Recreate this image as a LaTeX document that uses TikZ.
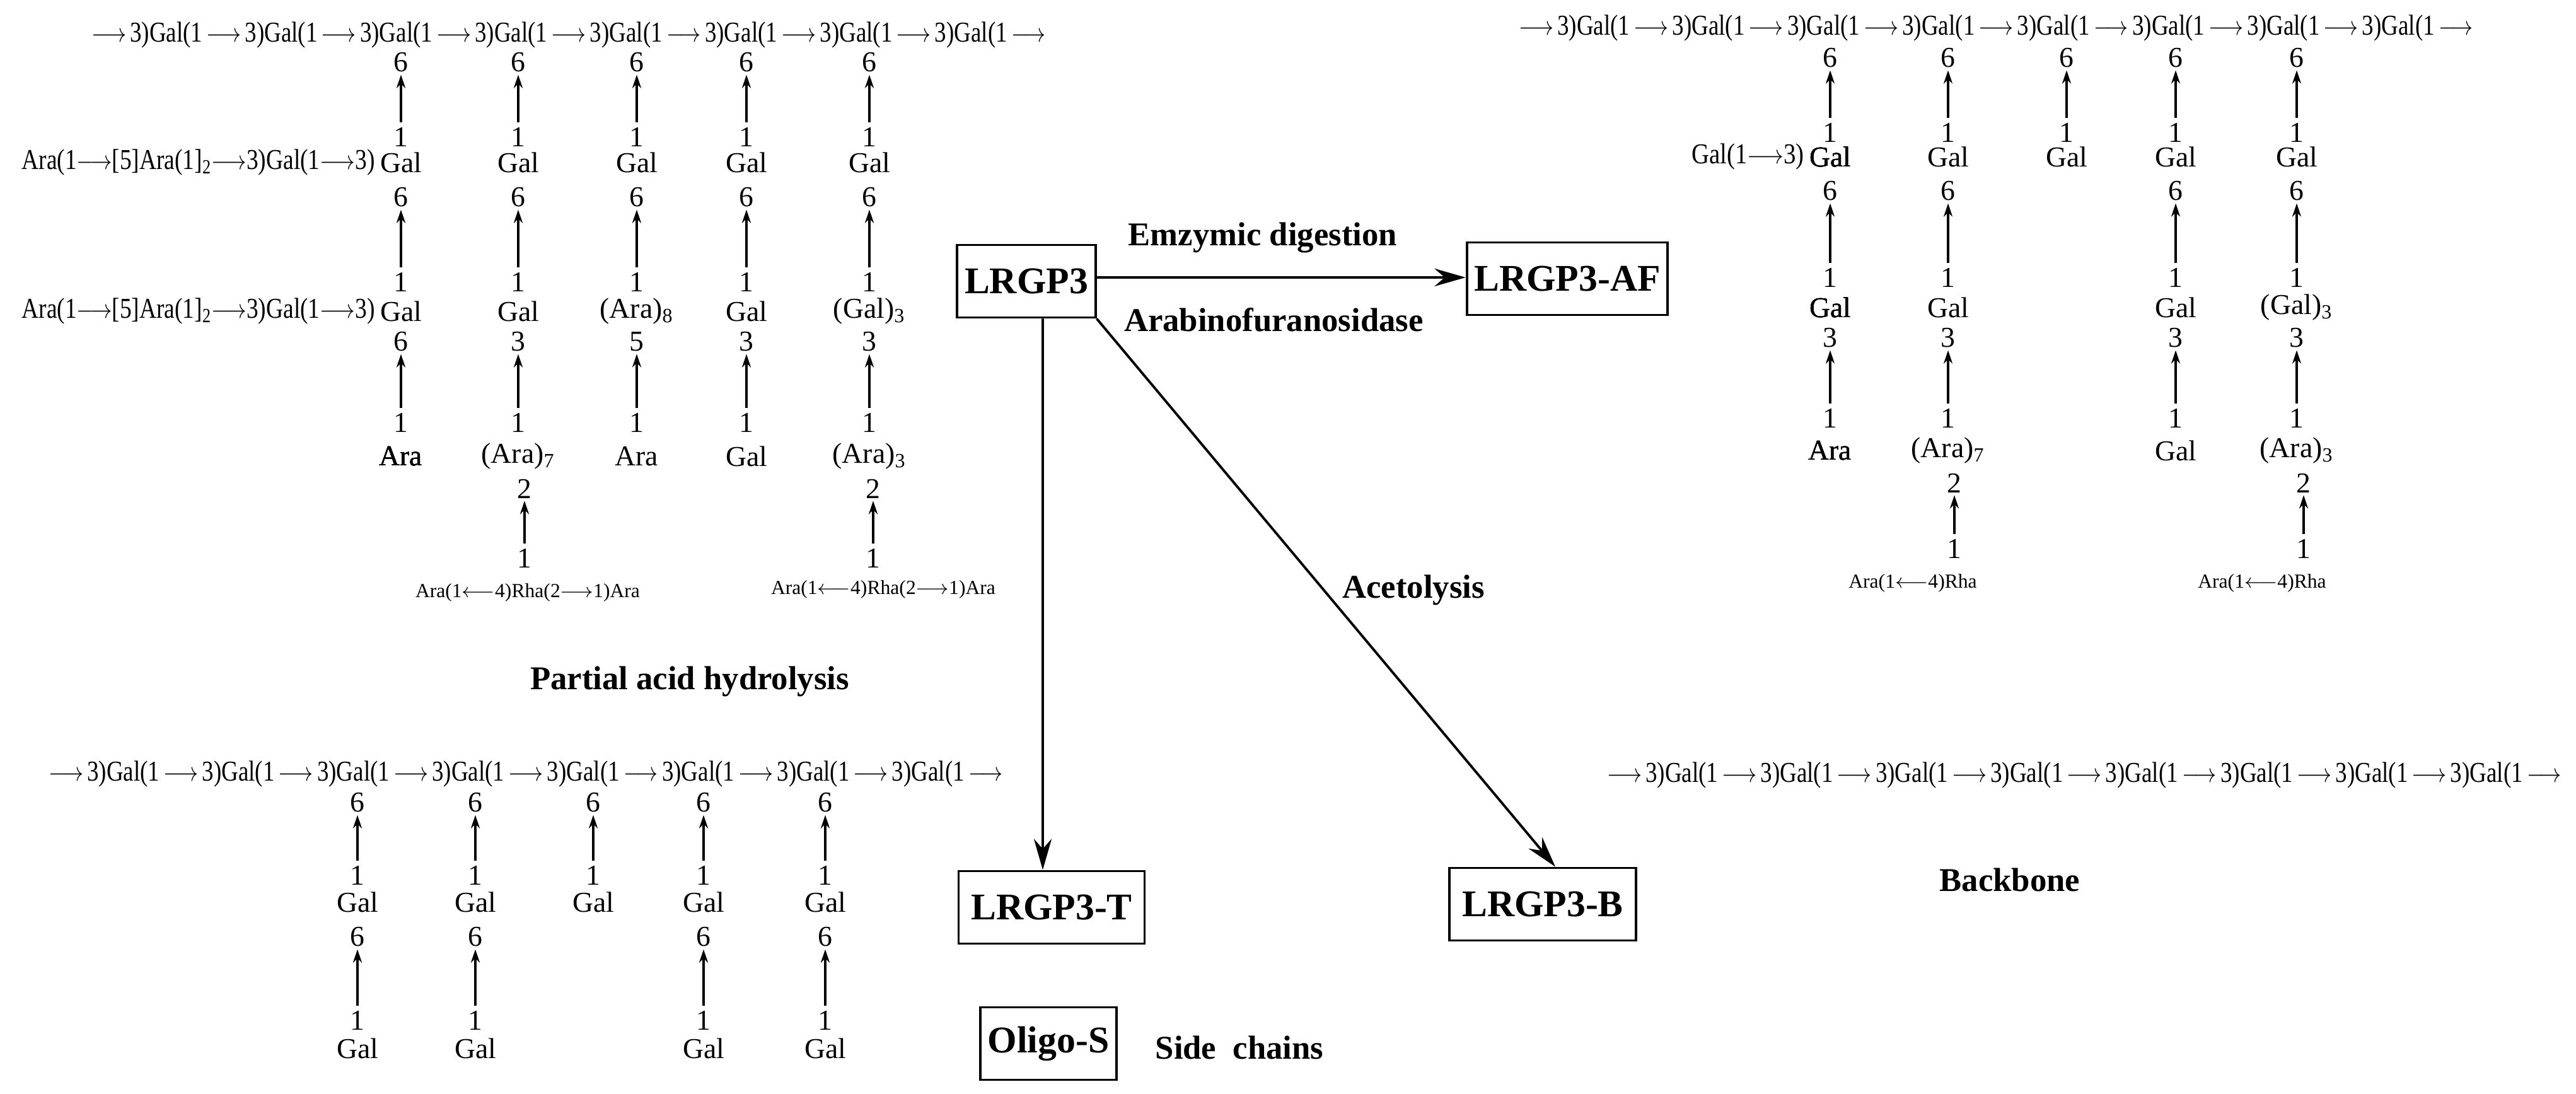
\documentclass[tikz,border=0pt]{standalone}
\usepackage{fontspec}
\setmainfont{Liberation Serif}
\usetikzlibrary{positioning,arrows.meta}

% one sugar link: upper position, arrow, lower "1"
\newcommand\glyc[5]{%
  \node[num] (#1t) at (#2,#3) {#5};
  \node[num] (#1b) at (#2,#4) {1};
  \draw[bond] (#1b) -- (#1t);}
\newcommand\unit{3)Gal(1\,$\longrightarrow$\,}
\newcommand\bbone{\resizebox{15.2cm}{\height}{$\longrightarrow$\,\unit\unit\unit\unit\unit\unit\unit\unit}}

\begin{document}
\begin{tikzpicture}[
    num/.style={font=\fontsize{13}{15}\selectfont,inner sep=1pt},
    res/.style={font=\fontsize{13}{15}\selectfont,inner sep=1pt},
    rha/.style={font=\fontsize{9}{11}\selectfont,inner sep=1pt},
    bond/.style={-{Stealth[length=6pt,width=4pt]},line width=0.9pt,shorten <=1pt,shorten >=0pt},
    box/.style={draw,line width=1.1pt,font=\fontsize{17}{20}\selectfont\bfseries,minimum height=1.15cm},
    proc/.style={font=\fontsize{15}{18}\selectfont\bfseries},
    flow/.style={-{Stealth[length=14pt,width=8pt]},line width=1.1pt}
]
\useasboundingbox (0,0) rectangle (40.86,-17.35);

% ---- LRGP3 (top left)
\node[res,anchor=west] (Lbb) at (1.41,-0.56) {\bbone};
\foreach \c/\x in {a/6.36,b/8.22,c/10.10,d/11.84,e/13.79}{
  \glyc{L\c1}{\x}{-0.99}{-2.17}{6}
  \glyc{L\c2}{\x}{-3.13}{-4.47}{6}
}
\node[res] (La1) at (6.36,-2.58) {Gal};
\foreach \c/\x in {b/8.22,c/10.10,d/11.84,e/13.79}
  \node[res] (L\c r1) at (\x,-2.58) {Gal};
\node[res,left=0pt of La1] (Larm1) {\resizebox{5.6cm}{\height}{Ara(1$\longrightarrow$[5]Ara(1]\textsubscript{2}$\longrightarrow$3)Gal(1$\longrightarrow$3)}};
\node[res] (La2) at (6.36,-4.94) {Gal};
\node[res,left=0pt of La2] (Larm2) {\resizebox{5.6cm}{\height}{Ara(1$\longrightarrow$[5]Ara(1]\textsubscript{2}$\longrightarrow$3)Gal(1$\longrightarrow$3)}};
\node[res] (Lbr2) at (8.22,-4.94) {Gal};
\node[res] (Lcr2) at (10.10,-4.94) {(Ara)\textsubscript{8}};
\node[res] (Ldr2) at (11.84,-4.94) {Gal};
\node[res] (Ler2) at (13.79,-4.94) {(Gal)\textsubscript{3}};
\foreach \c/\x/\p in {a/6.36/6,b/8.22/3,c/10.10/5,d/11.84/3,e/13.79/3}
  \glyc{L\c3}{\x}{-5.42}{-6.70}{\p}
\node[res] (Lar3) at (6.36,-7.24) {Ara};
\node[res] (Lbr3) at (8.22,-7.24) {(Ara)\textsubscript{7}};
\node[res] (Lcr3) at (10.10,-7.24) {Ara};
\node[res] (Ldr3) at (11.84,-7.24) {Gal};
\node[res] (Ler3) at (13.79,-7.24) {(Ara)\textsubscript{3}};
\glyc{Lb4}{8.32}{-7.75}{-8.85}{2}
\glyc{Le4}{13.85}{-7.75}{-8.85}{2}
\node[rha] (Lbrha) at (8.37,-9.40) {Ara(1$\longleftarrow$4)Rha(2$\longrightarrow$1)Ara};
\node[rha] (Lerha) at (14.01,-9.35) {Ara(1$\longleftarrow$4)Rha(2$\longrightarrow$1)Ara};

% ---- LRGP3-AF (top right)
\node[res,anchor=west] (Rbb) at (24.05,-0.45) {\bbone};
\foreach \c/\x in {a/29.03,b/30.90,c/32.78,d/34.51,e/36.43}
  \glyc{R\c1}{\x}{-0.92}{-2.10}{6}
\node[res] (Ra1) at (29.03,-2.49) {Gal};
\node[res,left=0pt of Ra1] (Rarm) {\scalebox{0.85}[1]{Gal(1$\longrightarrow$3)}};
\foreach \c/\x in {b/30.90,c/32.78,d/34.51,e/36.43}
  \node[res] (R\c r1) at (\x,-2.49) {Gal};
\foreach \c/\x in {a/29.03,b/30.90,d/34.51,e/36.43}
  \glyc{R\c2}{\x}{-3.03}{-4.40}{6}
\node[res] (Rar2) at (29.03,-4.88) {Gal};
\node[res] (Rbr2) at (30.90,-4.88) {Gal};
\node[res] (Rdr2) at (34.51,-4.88) {Gal};
\node[res] (Rer2) at (36.43,-4.88) {(Gal)\textsubscript{3}};
\foreach \c/\x in {a/29.03,b/30.90,d/34.51,e/36.43}
  \glyc{R\c3}{\x}{-5.36}{-6.63}{3}
\node[res] (Rar3) at (29.03,-7.15) {Ara};
\node[res] (Rbr3) at (30.90,-7.15) {(Ara)\textsubscript{7}};
\node[res] (Rdr3) at (34.51,-7.15) {Gal};
\node[res] (Rer3) at (36.43,-7.15) {(Ara)\textsubscript{3}};
\glyc{Rb4}{31.00}{-7.66}{-8.70}{2}
\glyc{Re4}{36.54}{-7.66}{-8.70}{2}
\node[rha] (Rbrha) at (30.34,-9.25) {Ara(1$\longleftarrow$4)Rha};
\node[rha] (Rerha) at (35.88,-9.25) {Ara(1$\longleftarrow$4)Rha};

% ---- LRGP3-T (bottom left)
\node[proc] (hyd) at (10.94,-10.81) {Partial acid hydrolysis};
\node[res,anchor=west] (Tbb) at (0.73,-12.28) {\bbone};
\foreach \c/\x in {a/5.67,b/7.54,c/9.41,d/11.16,e/13.09}{
  \glyc{T\c1}{\x}{-12.73}{-13.88}{6}
  \node[res] (T\c r1) at (\x,-14.31) {Gal};
}
\foreach \c/\x in {a/5.67,b/7.54,d/11.16,e/13.09}{
  \glyc{T\c2}{\x}{-14.86}{-16.18}{6}
  \node[res] (T\c r2) at (\x,-16.63) {Gal};
}

% ---- LRGP3-B (bottom right)
\node[res,anchor=west] (Bbb) at (25.45,-12.30) {\bbone};
\node[proc] (bone) at (31.88,-13.95) {Backbone};

% ---- products
\node[box,minimum width=2.08cm] (lrgp) at (16.28,-4.46) {LRGP3};
\node[box,minimum width=2.97cm] (af) at (24.86,-4.42) {LRGP3-AF};
\node[box,minimum width=2.95cm] (t) at (16.68,-14.39) {LRGP3-T};
\node[box,minimum width=2.96cm] (b) at (24.47,-14.34) {LRGP3-B};
\node[box,minimum width=2.08cm] (oligo) at (16.63,-16.55) {Oligo-S};
\node[proc] (side) at (19.66,-16.61) {Side\ \ chains};

\draw[flow] ([yshift=0.06cm]lrgp.east) -- ([yshift=0.02cm]af.west)
  node[proc,pos=0.45,above=0.25cm] (enz) {Emzymic digestion}
  node[proc,pos=0.48,below=0.35cm] (arab) {Arabinofuranosidase};
\draw[flow] ([xshift=0.26cm]lrgp.south) -- ([xshift=-0.14cm]t.north);
\draw[flow] (lrgp.south east) -- ([xshift=0.2cm]b.north);
\node[proc] (acet) at (22.42,-9.36) {Acetolysis};
\end{tikzpicture}
\end{document}
